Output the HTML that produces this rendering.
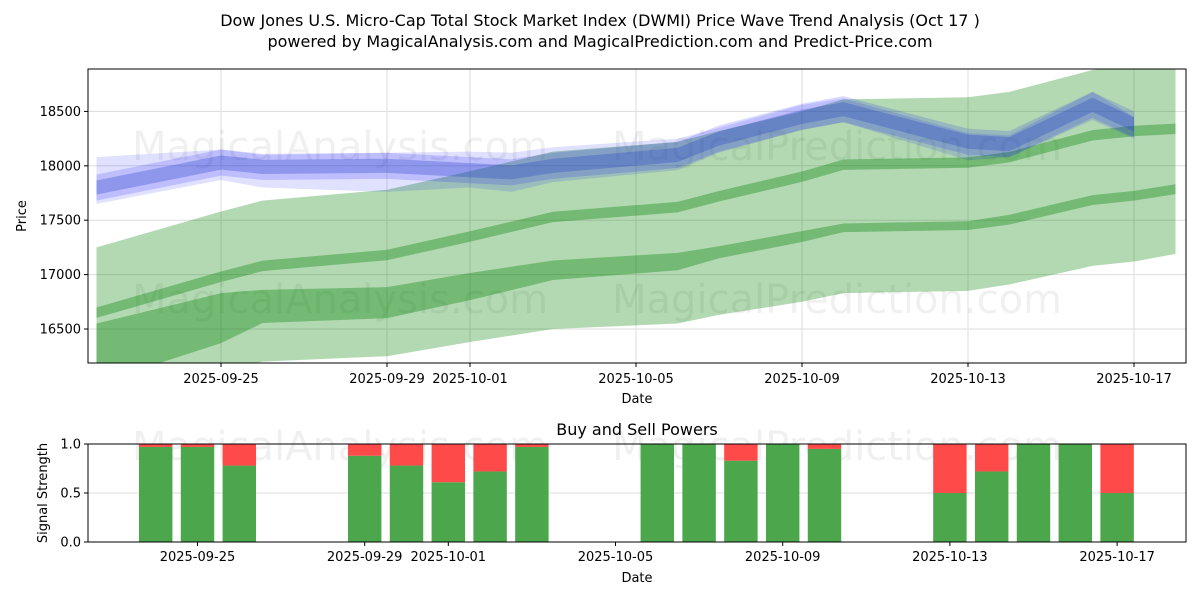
<!DOCTYPE html>
<html><head><meta charset="utf-8"><style>
body{margin:0;background:#fff;font-family:"Liberation Sans","DejaVu Sans",sans-serif;}
svg text{font-family:"DejaVu Sans","Liberation Sans",sans-serif;}
</style></head><body>
<svg id="c" width="1200" height="600" viewBox="0 0 1200 600" xmlns="http://www.w3.org/2000/svg">
<defs>
<clipPath id="cp"><rect x="88" y="69" width="1098" height="294"/></clipPath>
<clipPath id="cpb"><rect x="88" y="444" width="1098" height="98"/></clipPath>
</defs>
<rect width="1200" height="600" fill="#fff"/>
<text x="600" y="26" font-size="16" text-anchor="middle">Dow Jones U.S. Micro-Cap Total Stock Market Index (DWMI) Price Wave Trend Analysis (Oct 17 )</text>
<text x="600" y="47" font-size="16" text-anchor="middle">powered by MagicalAnalysis.com and MagicalPrediction.com and Predict-Price.com</text>
<g id="topchart"></g>
<g id="botchart"></g>
</svg>
<script>
// ---- data (days relative to 2025-09-25) ----
const bandDays = [-3,0,1,4,6,8,11,12,14,15,18,19,21,22,23];
const upperCenter = [16650,16980,17080,17180,17350,17530,17620,17720,17900,18010,18030,18080,18280,18320,18340];
const lowerCenter = [16550,16720,16800,16850,16980,17100,17150,17230,17350,17430,17450,17510,17680,17720,17790];
const lowerLineTop = [16550,16830,16860,16885,17015,17130,17200,17260,17400,17470,17490,17550,17730,17770,17830];
const lowerLineBottom = [16000,16370,16555,16600,16765,16950,17040,17150,17300,17390,17410,17460,17640,17680,17740];
const blueDays = [-3,0,1,4,6,7,8,11,12,14,15,18,19,21,22];
const blueMain = [17800,18030,17990,18000,17960,17940,18000,18100,18250,18450,18520,18220,18200,18560,18380];
const blueUpper = [18080,18150,18100,18120,18130,18120,18170,18250,18350,18560,18620,18300,18280,18680,18450];
const blueLower = [17650,17870,17800,17760,17800,17760,17850,17960,18120,18330,18400,18050,18080,18420,18250];
const xTickLabels = ['2025-09-25','2025-09-29','2025-10-01','2025-10-05','2025-10-09','2025-10-13','2025-10-17'];
const xTickDays = [0,4,6,10,14,18,22];
const yTicks = [16500,17000,17500,18000,18500];
const barDays = [-1,0,1,4,5,6,7,8,11,12,13,14,15,18,19,20,21,22];
const buyPower = [0.97,0.97,0.78,0.88,0.78,0.61,0.72,0.97,1.0,1.0,0.83,1.0,0.95,0.5,0.72,1.0,1.0,0.5];
const sigTicks = [0,0.5,1.0];

const NS='http://www.w3.org/2000/svg';
function mk(tag,attrs,parent){const e=document.createElementNS(NS,tag);for(const k in attrs)e.setAttribute(k,attrs[k]);parent.appendChild(e);return e;}
const topG=document.getElementById('topchart'), botG=document.getElementById('botchart');
const L=88,R=1186,T=69,B=363;
const x=d=>221+d*41.5;
const y=v=>329-(v-16500)*0.1088;
const xb=d=>197.5+d*41.8;
const BT=444,BB=542;
const yb=v=>BB-v*(BB-BT);

const grid=mk('g',{},topG);


xTickDays.forEach(d=>mk('line',{x1:x(d),x2:x(d),y1:T,y2:B,stroke:'#ddd','stroke-width':1},grid));
yTicks.forEach(v=>mk('line',{x1:L,x2:R,y1:y(v),y2:y(v),stroke:'#ddd','stroke-width':1},grid));
[[340,160,'MagicalAnalysis.com'],[340,313,'MagicalAnalysis.com'],[837,160,'MagicalPrediction.com'],[837,313,'MagicalPrediction.com']].forEach(p=>{
  const t=mk('text',{x:p[0],y:p[1],'font-size':40,fill:'#000','fill-opacity':0.06,'text-anchor':'middle'},topG);
  t.textContent=p[2];
  
  
});
const g=mk('g',{'clip-path':'url(#cp)'},topG);
function band(days,hi,lo,fill,op,name){
  let pts=days.map((d,i)=>x(d)+','+y(hi[i]));
  for(let i=days.length-1;i>=0;i--)pts.push(x(days[i])+','+y(lo[i]));
  const p=mk('polygon',{points:pts.join(' '),fill:fill,'fill-opacity':op},g);
  
  
}
const off=(a,k)=>a.map(v=>v+k);
band(bandDays,off(upperCenter,600),off(lowerCenter,-600),'#008000',0.3,'prediction-range-band');
band(bandDays,off(upperCenter,48),off(upperCenter,-48),'#008000',0.35,'upper-trend-line');
band(bandDays,lowerLineTop,lowerLineBottom,'#008000',0.35,'lower-trend-line');
band(blueDays,blueUpper,blueLower,'#0000ff',0.12,'blue-wave-outer');
band(blueDays,off(blueMain,120),off(blueMain,-120),'#0000ff',0.15,'blue-wave-mid');
band(blueDays,off(blueMain,65),off(blueMain,-65),'#2040c0',0.3,'blue-wave-core');
mk('rect',{x:L,y:T,width:R-L,height:B-T,fill:'none',stroke:'#000','stroke-width':1},topG);
xTickDays.forEach((d,i)=>{
  mk('line',{x1:x(d),x2:x(d),y1:B,y2:B+4,stroke:'#000'},topG);
  const t=mk('text',{x:x(d),y:B+20,'font-size':13,'text-anchor':'middle'},topG);
  t.textContent=xTickLabels[i];
  
  
});
yTicks.forEach(v=>{
  mk('line',{x1:L-4,x2:L,y1:y(v),y2:y(v),stroke:'#000'},topG);
  const t=mk('text',{x:L-7,y:y(v)+4.5,'font-size':13,'text-anchor':'end'},topG);
  t.textContent=v;
  
  
});
let t=mk('text',{x:637,y:403,'font-size':13,'text-anchor':'middle'},topG);
t.textContent='Date';


t=mk('text',{x:26,y:216,'font-size':13,'text-anchor':'middle',transform:'rotate(-90 26 216)'},topG);
t.textContent='Price';



// bottom chart
t=mk('text',{x:637,y:435,'font-size':16,'text-anchor':'middle'},botG);
t.textContent='Buy and Sell Powers';


mk('line',{x1:L,x2:R,y1:yb(0.5),y2:yb(0.5),stroke:'#ddd'},botG);
[[340,460,'MagicalAnalysis.com'],[837,460,'MagicalPrediction.com']].forEach(p=>{
  const w=mk('text',{x:p[0],y:p[1],'font-size':40,fill:'#000','fill-opacity':0.06,'text-anchor':'middle'},botG);
  w.textContent=p[2];
  
  
});
const bg=mk('g',{'clip-path':'url(#cpb)'},botG);
const bw=0.8*41.8;
barDays.forEach((d,i)=>{
  const b=buyPower[i];
  const r1=mk('rect',{x:xb(d)-bw/2,y:yb(b),width:bw,height:yb(0)-yb(b),fill:'#4ca64c'},bg);
  
  
  const r2=mk('rect',{x:xb(d)-bw/2,y:yb(1),width:bw,height:yb(b)-yb(1),fill:'#ff4a4a'},bg);
  
  
});
mk('rect',{x:L,y:BT,width:R-L,height:BB-BT,fill:'none',stroke:'#000'},botG);
xTickDays.forEach((d,i)=>{
  mk('line',{x1:xb(d),x2:xb(d),y1:BB,y2:BB+4,stroke:'#000'},botG);
  const s=mk('text',{x:xb(d),y:BB+19,'font-size':13,'text-anchor':'middle'},botG);
  s.textContent=xTickLabels[i];
  
  
});
sigTicks.forEach(v=>{
  mk('line',{x1:L-4,x2:L,y1:yb(v),y2:yb(v),stroke:'#000'},botG);
  const s=mk('text',{x:L-7,y:yb(v)+4.5,'font-size':13,'text-anchor':'end'},botG);
  s.textContent=v.toFixed(1);
  
  
});
t=mk('text',{x:637,y:582,'font-size':13,'text-anchor':'middle'},botG);
t.textContent='Date';


t=mk('text',{x:47,y:493,'font-size':13,'text-anchor':'middle',transform:'rotate(-90 47 493)'},botG);
t.textContent='Signal Strength';


</script>
</body></html>
